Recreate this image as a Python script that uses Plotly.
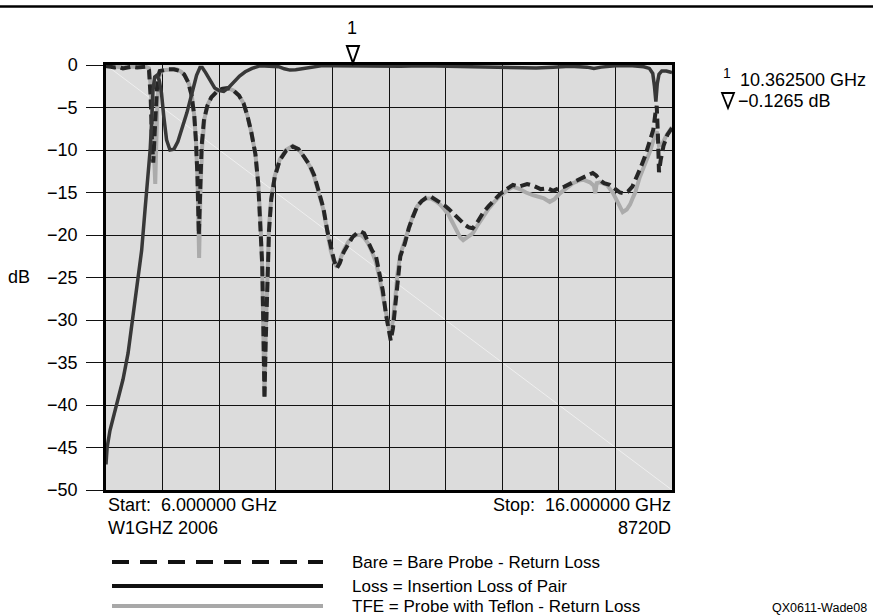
import plotly.graph_objects as go

# ---- measured traces (frequency in GHz, level in dB) ----
bare_freq = [6.00, 6.08, 6.15, 6.22, 6.30, 6.38, 6.45, 6.55, 6.65, 6.72, 6.76, 6.79, 6.81, 6.835, 6.86, 6.885, 6.91, 6.95,
             7.02, 7.10, 7.20, 7.30, 7.38, 7.45, 7.51, 7.56, 7.59, 7.615, 7.64, 7.665, 7.69, 7.73, 7.79, 7.86, 7.95,
             8.05, 8.15, 8.25, 8.35, 8.43, 8.50, 8.57, 8.64, 8.69, 8.73, 8.76, 8.78, 8.80, 8.82, 8.85, 8.88, 8.92, 8.98,
             9.07, 9.18, 9.30, 9.40, 9.50, 9.60, 9.68, 9.76, 9.84, 9.91, 9.97, 10.03, 10.08, 10.13, 10.20, 10.28,
             10.36, 10.43, 10.50, 10.56, 10.63, 10.70, 10.77, 10.83, 10.89, 10.95, 11.00, 11.03, 11.07, 11.11, 11.15,
             11.20, 11.28, 11.35, 11.42, 11.50, 11.58, 11.66, 11.74, 11.82, 11.90, 11.98, 12.05, 12.12, 12.20, 12.27,
             12.34, 12.41, 12.48, 12.56, 12.66, 12.76, 12.86, 12.96, 13.08, 13.19, 13.30, 13.44, 13.55, 13.68, 13.80,
             13.90, 14.00, 14.10, 14.25, 14.43, 14.52, 14.60, 14.66, 14.72, 14.80, 14.90, 15.00, 15.08, 15.15, 15.22,
             15.30, 15.38, 15.45, 15.52, 15.60, 15.67, 15.71, 15.73, 15.75, 15.77, 15.80, 15.85, 15.92, 16.00]
bare_db = [-0.1, -0.2, -0.3, -0.2, -0.4, -0.3, -0.2, -0.3, -0.2, -0.2, -0.6, -4.0, -8.5, -11.5, -8.0, -4.0, -1.6, -0.7,
           -0.6, -0.5, -0.5, -0.7, -1.1, -2.0, -3.5, -6.0, -9.0, -13.0, -20.0, -13.5, -9.5, -6.5, -4.8, -3.8, -3.2,
           -2.8, -2.7, -3.0, -3.6, -4.5, -6.0, -8.0, -10.5, -14.0, -18.5, -23.5, -31.0, -39.3, -33.0, -25.0, -19.5, -15.8, -13.2,
           -11.2, -10.1, -9.6, -9.9, -10.8, -11.8, -13.0, -14.8, -16.8, -19.5, -21.5, -23.0, -23.9, -23.3, -22.0, -21.2,
           -20.2, -19.8, -19.6, -19.8, -20.8, -21.8, -22.5, -24.5, -26.5, -29.5, -31.5, -32.4, -31.0, -28.5, -25.0,
           -22.5, -21.0, -19.2, -17.9, -16.6, -16.0, -15.6, -15.5, -15.8, -16.2, -16.5, -16.9, -17.4, -17.8, -18.4,
           -18.8, -19.1, -19.2, -18.5, -17.4, -16.6, -15.9, -15.2, -14.6, -14.1, -14.3, -14.0, -14.2, -14.6, -14.5,
           -14.8, -14.5, -14.3, -13.8, -13.2, -13.0, -12.7, -13.0, -13.5, -13.9, -14.1, -14.6, -15.0, -15.1, -14.9,
           -14.3, -13.2, -12.0, -10.8, -9.2, -7.6, -5.5, -4.8, -8.0, -12.6, -11.2, -9.5, -8.2, -7.4]

tfe_freq = [6.00, 6.10, 6.20, 6.30, 6.40, 6.50, 6.60, 6.70, 6.76, 6.79, 6.82, 6.845, 6.87, 6.89, 6.91, 6.94, 6.98,
            7.05, 7.15, 7.25, 7.33, 7.40, 7.47, 7.52, 7.56, 7.59, 7.62, 7.645, 7.67, 7.70, 7.74, 7.80, 7.87, 7.95,
            8.05, 8.15, 8.25, 8.35, 8.43, 8.50, 8.57, 8.64, 8.69, 8.73, 8.76, 8.78, 8.80, 8.82, 8.85, 8.88, 8.92, 8.98,
            9.07, 9.18, 9.30, 9.40, 9.50, 9.60, 9.68, 9.76, 9.84, 9.91, 9.97, 10.03, 10.08, 10.13, 10.20, 10.28,
            10.36, 10.43, 10.50, 10.56, 10.63, 10.70, 10.77, 10.83, 10.89, 10.95, 11.00, 11.03, 11.07, 11.11, 11.15,
            11.20, 11.28, 11.35, 11.42, 11.50, 11.58, 11.66, 11.74, 11.82, 11.90, 11.98, 12.05, 12.12, 12.19, 12.26,
            12.31, 12.38, 12.48, 12.57, 12.66, 12.76, 12.86, 12.96, 13.08, 13.19, 13.31, 13.42, 13.54, 13.64, 13.74,
            13.84, 13.92, 14.02, 14.12, 14.25, 14.35, 14.43, 14.55, 14.62, 14.645, 14.67, 14.73, 14.85, 14.96, 15.03,
            15.08, 15.13, 15.20, 15.26, 15.31, 15.35, 15.43, 15.50, 15.56, 15.62, 15.67, 15.73, 15.77, 15.82, 15.90, 16.00]
tfe_db = [-0.2, -0.1, -0.2, -0.3, -0.2, -0.2, -0.3, -0.2, -0.4, -2.5, -6.0, -10.0, -14.0, -9.0, -4.0, -1.4, -0.7,
          -0.6, -0.5, -0.5, -0.8, -1.3, -2.3, -3.8, -6.0, -9.0, -14.0, -22.7, -14.5, -9.5, -6.3, -4.6, -3.7, -3.1,
          -2.8, -2.7, -3.0, -3.6, -4.5, -6.0, -8.0, -10.5, -14.0, -18.5, -24.0, -31.0, -39.0, -32.0, -24.5, -19.0, -15.6, -13.1,
          -11.1, -10.0, -9.5, -9.9, -10.8, -11.9, -13.2, -15.0, -17.0, -19.6, -21.8, -23.2, -23.8, -23.0, -21.8, -20.8,
          -20.2, -20.0, -20.0, -20.3, -21.0, -22.0, -23.2, -25.0, -27.0, -29.5, -31.0, -31.5, -30.0, -27.5, -24.5,
          -22.3, -20.6, -19.0, -17.8, -16.6, -16.0, -15.7, -15.7, -16.0, -16.4, -17.0, -17.6, -18.5, -19.5, -20.3,
          -20.6, -20.3, -19.8, -18.8, -17.8, -16.9, -16.1, -15.4, -14.8, -14.3, -14.6, -15.0, -15.3, -15.5, -15.7,
          -16.1, -15.8, -15.1, -14.6, -13.9, -13.6, -13.5, -13.8, -14.2, -15.1, -13.9, -13.8, -14.1, -15.1, -16.0,
          -16.7, -17.3, -17.0, -16.4, -15.6, -15.0, -13.2, -12.0, -11.2, -10.0, -8.9, -7.8, -9.5, -9.4, -8.3, -7.3]

loss_freq = [6.00, 6.02, 6.07, 6.13, 6.19, 6.25, 6.30, 6.39, 6.47, 6.56, 6.63, 6.69, 6.74, 6.78, 6.81, 6.83, 6.86,
             6.90, 6.94, 6.98, 7.02, 7.07, 7.13, 7.20, 7.27, 7.35, 7.43, 7.52, 7.60, 7.66, 7.70, 7.76, 7.84, 7.92,
             8.00, 8.08, 8.16, 8.26, 8.36, 8.46, 8.58, 8.72, 8.90, 9.05, 9.15, 9.25, 9.35, 9.45, 9.60, 9.80, 10.00,
             10.20, 10.3625, 10.60, 10.90, 11.20, 11.60, 12.00, 12.40, 12.70, 13.00, 13.30, 13.60, 13.90, 14.20,
             14.50, 14.62, 14.75, 15.00, 15.30, 15.50, 15.60, 15.66, 15.69, 15.715, 15.74, 15.77, 15.82, 15.90, 16.00]
loss_db = [-47.0, -45.0, -43.0, -41.5, -40.0, -38.5, -37.0, -33.9, -30.0, -25.3, -21.8, -17.0, -13.2, -10.0, -6.1, -3.0, -1.4,
           -1.2, -1.8, -3.3, -6.0, -8.8, -10.0, -9.9, -9.0, -7.4, -5.6, -3.3, -1.2, -0.3, -0.3, -0.9, -1.9, -2.7,
           -3.0, -3.1, -2.7, -2.0, -1.3, -0.8, -0.4, -0.1, -0.1, -0.2, -0.45, -0.6, -0.55, -0.45, -0.2, -0.1, -0.1,
           -0.12, -0.1265, -0.1, -0.1, -0.15, -0.1, -0.15, -0.2, -0.25, -0.35, -0.4, -0.35, -0.25, -0.15,
           -0.25, -0.4, -0.25, -0.1, -0.1, -0.2, -0.4, -1.0, -2.5, -4.3, -2.2, -1.1, -0.7, -0.7, -0.9]

# marker 1 readout (on the insertion-loss trace)
marker_freq = 10.3625
marker_db = loss_db[loss_freq.index(marker_freq)]

legend_items = ["Bare = Bare Probe - Return Loss",
                "Loss = Insertion Loss of Pair",
                "TFE = Probe with Teflon - Return Loss"]

F_START, F_STOP = 6.0, 16.0
Y_MIN, Y_MAX = -50, 0

FONT = "Liberation Sans, Arial, Helvetica, sans-serif"
W, H = 873, 616
ML, MR, MT, MB = 106, 201, 65, 126
PW, PH = W - ML - MR, H - MT - MB


def px(x):
    """page x pixel -> paper x"""
    return (x - ML) / PW


def py(y):
    """page y pixel -> paper y"""
    return (H - MB - y) / PH


fig = go.Figure()

fig.add_trace(go.Scatter(x=tfe_freq, y=tfe_db, mode="lines", name="TFE",
                         line=dict(color="#ababab", width=4)))
fig.add_trace(go.Scatter(x=bare_freq, y=bare_db, mode="lines", name="Bare",
                         line=dict(color="#262626", width=4, dash="10px,5px")))
fig.add_trace(go.Scatter(x=loss_freq, y=loss_db, mode="lines", name="Loss",
                         line=dict(color="#383838", width=3.5)))

shapes = []
# rule across the top of the page
shapes.append(dict(type="line", xref="paper", yref="paper", x0=px(0), x1=px(W), y0=py(6.5), y1=py(6.5),
                   line=dict(color="black", width=2.5)))
# faint diagonal across the graticule
shapes.append(dict(type="line", xref="paper", yref="paper", x0=0, y0=1, x1=1, y1=0,
                   line=dict(color="rgba(255,255,255,0.55)", width=1), layer="below"))
# marker 1 triangle above the graticule
hw = 6 / PW * (F_STOP - F_START)
shapes.append(dict(type="path", xref="x", yref="paper",
                   path=f"M {marker_freq - hw},{py(46)} L {marker_freq + hw},{py(46)} L {marker_freq},{py(63)} Z",
                   line=dict(color="black", width=2), fillcolor="white"))
# triangle in the marker readout
shapes.append(dict(type="path", xref="paper", yref="paper",
                   path=f"M {px(722)},{py(93)} L {px(734)},{py(93)} L {px(728)},{py(108)} Z",
                   line=dict(color="black", width=1.8), fillcolor="white"))

# legend samples
leg_y = [562, 586, 606]
leg_styles = [dict(color="#111111", width=4, dash="17px,11px"),
              dict(color="#111111", width=4),
              dict(color="#a8a8a8", width=4)]
for yy, st in zip(leg_y, leg_styles):
    shapes.append(dict(type="line", xref="paper", yref="paper", x0=px(112), x1=px(323), y0=py(yy), y1=py(yy),
                       line=st))

ann = []


def text(x, y, s, size=18, xanchor="left", yanchor="middle"):
    ann.append(dict(x=px(x), y=py(y), xref="paper", yref="paper", text=s, showarrow=False,
                    xanchor=xanchor, yanchor=yanchor, font=dict(family=FONT, size=size, color="black")))


text(352, 28, "1", xanchor="center")
text(32, 277, "dB", xanchor="right")
text(733, 73, "1", size=14, xanchor="right")
text(738, 80, f"{marker_freq:.6f} GHz")
text(736, 101, f"\u2212{abs(marker_db):.4f} dB")
text(106, 505, f"Start:\u00a0 {F_START:.6f} GHz")
text(106, 528, "W1GHZ 2006")
text(673, 505, f"Stop:\u00a0 {F_STOP:.6f} GHz", xanchor="right")
text(673, 528, "8720D", xanchor="right")
for yy, s in zip(leg_y, legend_items):
    text(350, yy, s, size=17)
text(869, 608, "QX0611-Wade08", size=12.5, xanchor="right")

fig.update_layout(
    width=W, height=H,
    margin=dict(l=ML, r=MR, t=MT, b=MB, pad=0),
    paper_bgcolor="white", plot_bgcolor="#dcdcdc",
    showlegend=False,
    shapes=shapes, annotations=ann,
    font=dict(family=FONT, size=18, color="black"),
)
fig.update_xaxes(range=[F_START, F_STOP], dtick=1, tick0=F_START, showticklabels=False, ticks="",
                 showgrid=True, gridcolor="#111111", gridwidth=1.3, zeroline=False,
                 showline=True, mirror=True, linecolor="black", linewidth=2.5)
fig.update_yaxes(range=[Y_MIN, Y_MAX], dtick=5, tick0=0, ticks="outside", ticklen=17, tickwidth=1.3,
                 tickcolor="#111111", ticklabelstandoff=5,
                 tickfont=dict(family=FONT, size=18, color="black"),
                 showgrid=True, gridcolor="#111111", gridwidth=1.3, zeroline=False,
                 showline=True, mirror=True, linecolor="black", linewidth=2.5)

fig.write_html("out.html")
